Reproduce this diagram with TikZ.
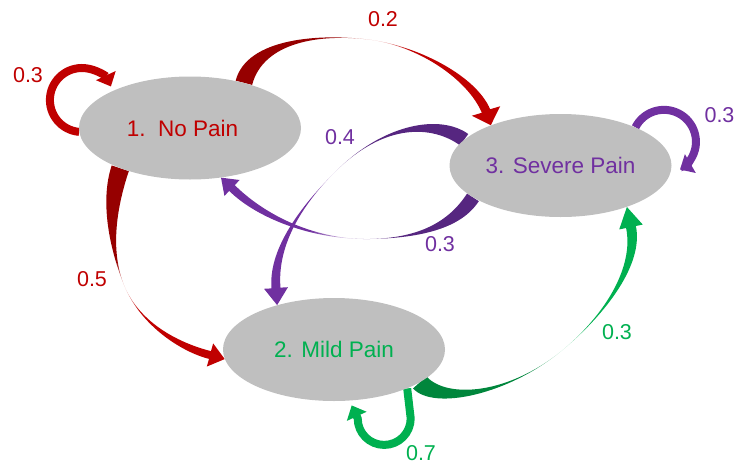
\documentclass[tikz,border=0pt]{standalone}
\usepackage{fontspec}
\setmainfont{Liberation Sans}
\usetikzlibrary{shapes.geometric,arrows.meta,calc,backgrounds}

\definecolor{stategray}{RGB}{191,191,191}
\definecolor{painred}{RGB}{192,0,0}
\definecolor{painredd}{RGB}{150,0,0}
\definecolor{painpurple}{RGB}{112,48,160}
\definecolor{painpurpled}{RGB}{86,38,128}
\definecolor{paingreen}{RGB}{0,176,80}
\definecolor{paingreend}{RGB}{0,134,60}

\colorlet{bandA}{black}
\colorlet{bandB}{black}
\colorlet{bandM}{white}
\pgfdeclareverticalshading[bandA,bandM,bandB]{fade}{100bp}{%
  color(0bp)=(bandA); color(25bp)=(bandA); color(42bp)=(bandA);
  color(50bp)=(bandM); color(58bp)=(bandB); color(75bp)=(bandB);
  color(100bp)=(bandB)}

\tikzset{
  state/.style={ellipse, fill=stategray, minimum width=222pt, minimum height=103pt,
    inner sep=0pt, font=\fontsize{22.5}{27}\selectfont},
  prob/.style={font=\fontsize{21.5}{26}\selectfont},
  selfloop/.style={line width=8pt, -{Triangle[width=21pt,length=12pt]}},
  bw/.code args={#1/#2/#3}{\def\bws{#1}\def\bwe{#2}\def\bwh{#3}},
  band colors/.code 2 args={\colorlet{bandA}{#1}\colorlet{bandB}{#2}\colorlet{bandM}{#2!25}},
}

% tapered arrow: style, start, c1, c2, middle, c3, c4, head base, tip
\newcommand{\bandarrow}[9]{%
  \shade[#1]
    ($#2!\bws!90:#3$) .. controls ($#3!\bws!-90:#2$) and #4 .. #5
    .. controls #6 and ($#7!\bwe!90:#8$) .. ($#8!\bwe!-90:#7$)
    -- ($#8!\bwh!90:#9$) -- #9 -- ($#8!\bwh!-90:#9$)
    -- ($#8!\bwe!90:#7$) .. controls ($#7!\bwe!-90:#8$) and #6 .. #5
    .. controls #4 and ($#3!\bws!90:#2$) .. ($#2!\bws!-90:#3$) -- cycle;}

\begin{document}
\begin{tikzpicture}[x=1pt, y=1pt]
  \useasboundingbox (0,0) rectangle (737,-464);

  % states
  \node[state, text=painred] (no) at (190,-128) {1.\ \ No Pain\hspace*{15pt}};
  \node[state, text=painpurple] (sev) at (560.5,-165.5) {3. Severe Pain};
  \node[state, text=paingreen] (mild) at (334,-349.5) {2. Mild Pain};

  \begin{scope}[on background layer]
    % 1 -> 3 and 1 -> 2
    \bandarrow{bw=8.5pt/4.5pt/15pt, band colors={painredd}{painred}, shading=fade, shading angle=-99}
      {(no.40)}{(255,-40)}{(320,-33)}{(372,-40)}{(420,-47)}{(472,-78)}{(486,-111)}{(sev.150)}
    \bandarrow{bw=9pt/4pt/12pt, band colors={painredd}{painred}, shading=fade, shading angle=-151}
      {(no.210)}{(108,-205)}{(110,-250)}{(124,-285)}{(140,-325)}{(182,-348)}{(210,-355)}{(mild.185)}
    % 3 -> 1 and 3 -> 2
    \bandarrow{bw=7pt/4pt/11pt, band colors={painpurpled}{painpurple}, shading=fade, shading angle=85}
      {(sev.200)}{(455,-225)}{(420,-238)}{(370,-239)}{(310,-240)}{(258,-214)}{(232,-188)}{(no.-58)}
    \bandarrow{bw=7pt/4.5pt/12pt, band colors={painpurpled}{painpurple}, shading=fade, shading angle=132}
      {(sev.165)}{(437,-120)}{(385,-122)}{(335,-172)}{(295,-212)}{(273,-252)}{(276,-288)}{(mild.142)}
    % 2 -> 3
    \bandarrow{bw=9pt/5pt/12pt, band colors={paingreend}{paingreen}, shading=fade, shading angle=-50}
      {(mild.-21)}{(440,-405)}{(510,-395)}{(565,-348)}{(605,-314)}{(639,-266)}{(631,-227)}{(sev.-32)}

    % self loops
    \draw[selfloop, painred] (no.182) arc[start angle=265, end angle=25, radius=32];
    \draw[selfloop, painpurple] (sev.27) arc[start angle=153, end angle=-60, radius=32];
    \draw[selfloop, paingreen] (mild.-28) -- ++(3.5,-30)
      arc[start angle=0, end angle=-180, radius=26.5] -- ++(-6,13);
  \end{scope}

  % probabilities
  \node[prob, text=painred] (p11) at (28,-75) {0.3};
  \node[prob, text=painred] (p13) at (383,-19) {0.2};
  \node[prob, text=painred] (p12) at (92,-279) {0.5};
  \node[prob, text=painpurple] (p32) at (340,-137) {0.4};
  \node[prob, text=painpurple] (p31) at (440,-244) {0.3};
  \node[prob, text=painpurple] (p33) at (719.5,-115) {0.3};
  \node[prob, text=paingreen] (p23) at (617,-332) {0.3};
  \node[prob, text=paingreen] (p22) at (421,-453) {0.7};
\end{tikzpicture}
\end{document}
